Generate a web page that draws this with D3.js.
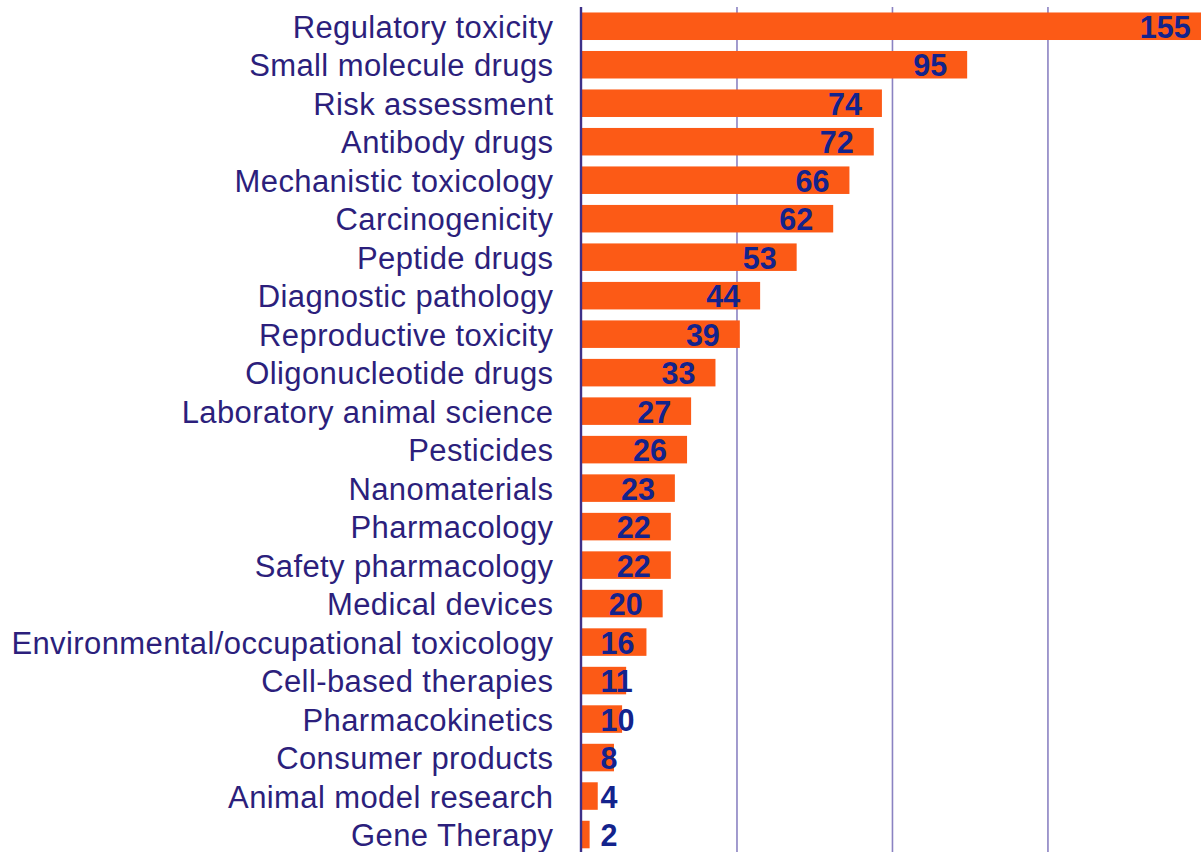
<!DOCTYPE html>
<html>
<head>
<meta charset="utf-8">
<script src="https://cdn.jsdelivr.net/npm/d3@7"></script>
<style>
  html, body { margin: 0; padding: 0; background: #ffffff; }
  svg { display: block; }
</style>
</head>
<body>
<svg id="chart" width="1201" height="852"></svg>
<script>
// Number of entries per research area
const categories = [
  "Regulatory toxicity", "Small molecule drugs", "Risk assessment", "Antibody drugs",
  "Mechanistic toxicology", "Carcinogenicity", "Peptide drugs", "Diagnostic pathology",
  "Reproductive toxicity", "Oligonucleotide drugs", "Laboratory animal science", "Pesticides",
  "Nanomaterials", "Pharmacology", "Safety pharmacology", "Medical devices",
  "Environmental/occupational toxicology", "Cell-based therapies", "Pharmacokinetics",
  "Consumer products", "Animal model research", "Gene Therapy"
];
const values = [155, 95, 74, 72, 66, 62, 53, 44, 39, 33, 27, 26, 23, 22, 22, 20, 16, 11, 10, 8, 4, 2];
// Vertical grid lines (value units)
const gridTicks = [38.3, 76.6, 114.9];

const width = 1201, height = 852;
const margin = { top: 7, right: 0, bottom: 0, left: 581.5 };

const svg = d3.select("#chart");

const x = d3.scaleLinear()
  .domain([0, 152.6])
  .range([margin.left, width - margin.right]);

const y = d3.scaleBand()
  .domain(categories)
  .range([margin.top, margin.top + categories.length * 38.49])
  .paddingInner(0.285)
  .paddingOuter(0.1425);

// grid lines
svg.append("g")
  .selectAll("line")
  .data(gridTicks)
  .join("line")
  .attr("x1", d => x(d)).attr("x2", d => x(d))
  .attr("y1", margin.top).attr("y2", height)
  .attr("stroke", "#8b82c2")
  .attr("stroke-width", 1.6);

// bars
svg.append("g")
  .selectAll("rect")
  .data(values)
  .join("rect")
  .attr("x", x(0))
  .attr("y", (d, i) => y(categories[i]))
  .attr("width", d => x(d) - x(0))
  .attr("height", y.bandwidth())
  .attr("fill", "#fc5a16");

// value axis line
svg.append("line")
  .attr("x1", x(0) - 0.5).attr("x2", x(0) - 0.5)
  .attr("y1", margin.top).attr("y2", height)
  .attr("stroke", "#3d3088")
  .attr("stroke-width", 2.4);

// category labels
const yAxis = d3.axisLeft(y).tickSize(0).tickPadding(0);
const gy = svg.append("g")
  .attr("transform", `translate(${x(0) - 28},0)`)
  .call(yAxis);
gy.select(".domain").remove();
gy.selectAll("text")
  .attr("fill", "#2c1f7c")
  .attr("font-family", "'Liberation Sans', Arial, Helvetica, sans-serif")
  .attr("font-size", 31)
  .attr("letter-spacing", 0.4)
  .attr("dy", null)
  .attr("y", 0)
  .attr("dominant-baseline", "alphabetic")
  .attr("transform", "translate(0,11.5)");

// value labels: right-aligned inside bar end, but never starting left of the minimum position
const minStart = x(0) + 19;
svg.append("g")
  .selectAll("text")
  .data(values)
  .join("text")
  .attr("y", (d, i) => y(categories[i]) + y.bandwidth() / 2 + 11.5)
  .attr("fill", "#13238c")
  .attr("font-family", "'Liberation Sans', Arial, Helvetica, sans-serif")
  .attr("font-weight", "bold")
  .attr("font-size", 30.5)
  .attr("text-anchor", "end")
  .text(d => d)
  .each(function (d) {
    const w = this.getComputedTextLength();
    const end = Math.max(x(d) - 20, minStart + w);
    d3.select(this).attr("x", end);
  });
</script>
</body>
</html>
